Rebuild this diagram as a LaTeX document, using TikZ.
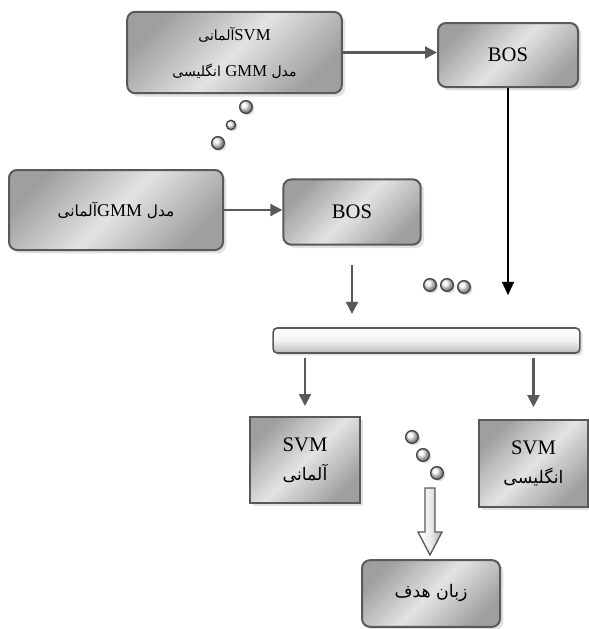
\documentclass[tikz,border=0pt]{standalone}
\usepackage{fontspec}
\setmainfont{Liberation Serif}
\newfontfamily\farsi[Script=Arabic]{DejaVu Sans}
\TeXXeTstate=1
\usetikzlibrary{arrows.meta, shadows}

\newcommand{\fatext}[2][10.5]{{\farsi\fontsize{#1}{#1}\selectfont\beginR #2\endR}}
\newcommand{\latext}[2][12.5]{\beginL{\rmfamily\fontsize{#1}{#1}\selectfont #2}\endL}

\tikzset{
  box/.style={draw=gray!70!black, line width=1.5pt, rounded corners=6pt,
    left color=gray!75, right color=gray!75, middle color=gray!22, shading angle=45,
    drop shadow={shadow xshift=2.5pt, shadow yshift=-2.5pt, fill=gray!45},
    font=\fontsize{15.5}{17}\selectfont, align=center, inner sep=2pt},
  sqbox/.style={box, sharp corners},
  busbar/.style={draw=gray!70!black, line width=1.2pt, rounded corners=3pt,
    top color=white, bottom color=gray!55, middle color=gray!10,
    drop shadow={shadow xshift=2pt, shadow yshift=-2pt, fill=gray!45},
    minimum width=230pt, minimum height=18.75pt, inner sep=0pt},
  bubble/.style={circle, draw=gray!55!black, line width=1pt, ball color=gray!8,
    minimum size=#1, inner sep=0pt,
    drop shadow={shadow xshift=1.5pt, shadow yshift=-1.5pt, fill=gray!50}},
  bubble/.default=9.5pt,
  link/.style={draw=gray!70!black, line width=1.6pt, -{Triangle[width=9pt,length=9pt]}},
  blacklink/.style={draw=black, line width=1pt, -{Triangle[width=9pt,length=10pt]}},
}

\begin{document}
\begin{tikzpicture}[x=0.75pt, y=-0.75pt]
\useasboundingbox (0,0) rectangle (589,629);

% models
\node[box, minimum width=161pt, minimum height=61pt] (gmmen) at (234.5,52.5)
  {\fatext{\latext{SVM}آلمانی}\\[10pt]\fatext{مدل \latext{GMM} انگلیسی}};
\node[box, minimum width=105pt, minimum height=48pt] (bosen) at (508,55) {BOS};
\node[box, minimum width=160.5pt, minimum height=60pt] (gmmde) at (116,210)
  {\fatext[11.5]{مدل \latext[13.5]{GMM}آلمانی}};
\node[box, minimum width=103pt, minimum height=49pt] (bosde) at (352,212) {BOS};

% dots
\node[bubble] (t1) at (246,107) {};
\node[bubble=7pt] (t2) at (231,125) {};
\node[bubble] (t3) at (218,143) {};
\node[bubble] (m1) at (430,285) {};
\node[bubble] (m2) at (447,285) {};
\node[bubble] (m3) at (464,287) {};

% bar and classifiers
\node[busbar] (bar) at (426.5,340.5) {};
\node[sqbox, minimum width=82.5pt, minimum height=64.5pt] (svmde) at (305,460)
  {SVM\\[5pt]\fatext[13]{آلمانی}};
\node[sqbox, minimum width=81.75pt, minimum height=65pt] (svmen) at (533.5,463.5)
  {SVM\\[5pt]\fatext[13]{انگلیسی}};

\node[bubble] (b1) at (412,437) {};
\node[bubble] (b2) at (423,455) {};
\node[bubble] (b3) at (437,473) {};

% output
\node[box, minimum width=103.5pt, minimum height=50pt] (target) at (431,593.5)
  {\fatext[13]{زبان هدف}};
\draw[draw=gray!70!black, line width=1pt, left color=white, right color=gray!60, middle color=gray!15]
  (425,488) -- (435,488) -- (435,532) -- (442,532) -- (430,555) -- (418,532) -- (425,532) -- cycle;

\coordinate (bosdeout) at (352,265);

% connectors
\draw[link] (gmmen.east) -- (gmmen.east -| bosen.west);
\draw[link] (gmmde.east) -- (gmmde.east -| bosde.west);
\draw[link, shorten >=10pt] (bosdeout) -- (bosdeout |- bar.north);
\draw[blacklink, shorten >=24pt] (bosen.south) -- (bosen.south |- bar.north);
\draw[link, shorten <=3pt, shorten >=7.5pt] (bar.south -| svmde.north) -- (svmde.north);
\draw[link, shorten <=3pt, shorten >=9pt] (bar.south -| svmen.north) -- (svmen.north);
\end{tikzpicture}
\end{document}
